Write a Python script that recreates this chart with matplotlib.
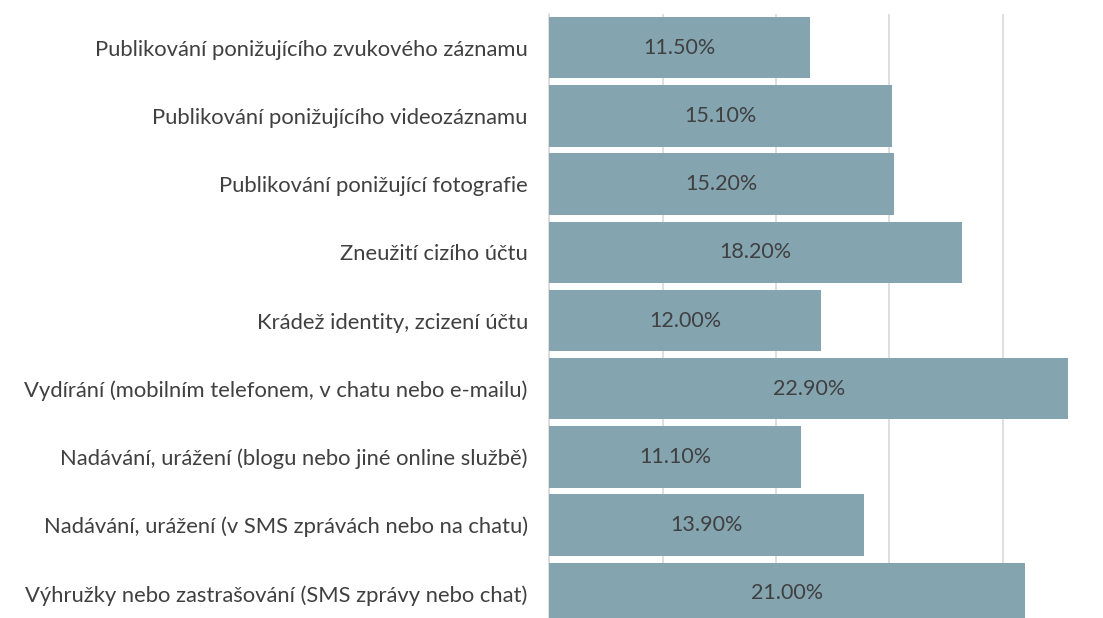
import matplotlib
matplotlib.use("Agg")
import matplotlib.pyplot as plt

categories = [
    "Publikování ponižujícího zvukového záznamu",
    "Publikování ponižujícího videozáznamu",
    "Publikování ponižující fotografie",
    "Zneužití cizího účtu",
    "Krádež identity, zcizení účtu",
    "Vydírání (mobilním telefonem, v chatu nebo e-mailu)",
    "Nadávání, urážení (blogu nebo jiné online službě)",
    "Nadávání, urážení (v SMS zprávách nebo na chatu)",
    "Výhružky nebo zastrašování (SMS zprávy nebo chat)",
]
values = [11.5, 15.1, 15.2, 18.2, 12.0, 22.9, 11.1, 13.9, 21.0]

plt.rcParams['font.family'] = ['Lato', 'DejaVu Sans']

fig = plt.figure(figsize=(11.03, 6.18), dpi=100)
W, H = 1103, 618
x0 = 549.3
unit = 22.67
xmax = 25
top_px = 13.6
pitch = 68.2
bottom_px = top_px + pitch * len(categories)
ax = fig.add_axes([x0 / W, (H - bottom_px) / H, xmax * unit / W, (bottom_px - top_px) / H])

ypos = list(range(len(categories)))
bars = ax.barh(ypos, values, height=0.9, color="#84A4B0", zorder=3)
ax.set_ylim(len(categories) - 0.5, -0.5)
ax.set_xlim(0, xmax)
ax.set_xticks([0, 5, 10, 15, 20, 25])
ax.set_xticklabels([])
ax.tick_params(axis='x', length=0)
ax.grid(axis='x', color="#d9d9d9", linewidth=1.2, zorder=0)
ax.set_yticks(ypos)
ax.set_yticklabels(categories, fontsize=15.8, color="#404040")
ax.tick_params(axis='y', length=0, pad=15.5)
for s in ['top', 'right', 'bottom']:
    ax.spines[s].set_visible(False)
ax.spines['left'].set_color("#d9d9d9")
ax.spines['left'].set_linewidth(1.2)

for y, v in zip(ypos, values):
    ax.text(v / 2, y, f"{v:.2f}%", ha='center', va='center', fontsize=15.5, color="#404040", zorder=4)

fig.savefig("out.png", dpi=100)
